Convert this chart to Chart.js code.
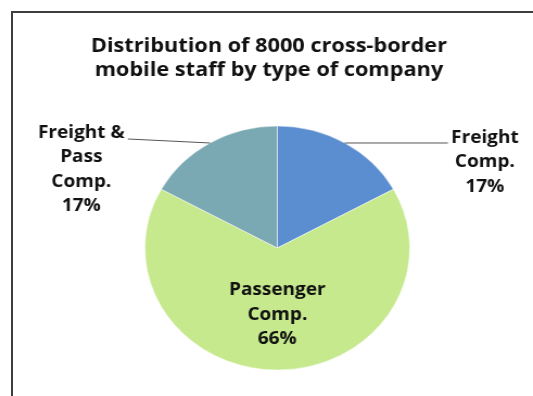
<!DOCTYPE html>
<html>
<head>
<meta charset="utf-8">
<script src="https://cdn.jsdelivr.net/npm/chart.js@4/dist/chart.umd.min.js"></script>
<style>
  html, body { margin: 0; padding: 0; background: #fff; overflow: hidden; }
  body { width: 533px; height: 396px; position: relative; }
  #wrap { position: absolute; left: 0; top: 0; width: 491px; height: 396px;
          transform: scaleX(1.0855); transform-origin: 0 0; }
  #frame { position: absolute; left: 11px; top: 11px; width: 560px; height: 420px;
           border: 2px solid #3e3e3e; pointer-events: none; }
</style>
</head>
<body>
<div id="wrap"><canvas id="pie" width="491" height="396"></canvas></div>
<div id="frame"></div>
<script>
const titleLines = ['Distribution of 8000 cross-border   ', 'mobile staff by type of company   '];
const categories = ['Freight Comp.', 'Passenger Comp.', 'Freight & Pass Comp.'];
const labelLines = [['Freight', 'Comp.'], ['Passenger', 'Comp.'], ['Freight &', 'Pass', 'Comp.']];
const shares = [17, 66, 17];
const sliceColors = ['#5b8ed0', '#c5e98c', '#7ba9b3'];

// writes category + percentage next to each slice, with leader lines for the small ones
const sliceLabels = {
    id: 'sliceLabels',
    afterDatasetsDraw(chart, args, opts) {
        const ctx = chart.ctx;
        const meta = chart.getDatasetMeta(0);
        const values = chart.data.datasets[0].data;
        ctx.save();
        ctx.font = `bold ${opts.size}px ${opts.family}`;
        ctx.fillStyle = opts.color;
        ctx.textAlign = 'center';
        ctx.textBaseline = 'alphabetic';
        meta.data.forEach((arc, i) => {
            const lines = [...labelLines[i], values[i] + '%'];
            const place = opts.placement[i];
            if (place.inside) {
                const c = arc.getCenterPoint(true);
                lines.forEach((t, k) => ctx.fillText(t, c.x, c.y + place.dy + k * opts.lineGap));
                return;
            }
            const {x, y, startAngle, endAngle, outerRadius} =
                arc.getProps(['x', 'y', 'startAngle', 'endAngle', 'outerRadius'], true);
            const mid = (startAngle + endAngle) / 2;
            const ax = x + Math.cos(mid) * outerRadius;
            const ay = y + Math.sin(mid) * outerRadius;
            const ex = ax + place.dx;
            const ey = ay + place.dy;
            ctx.beginPath();
            ctx.moveTo(ax, ay);
            ctx.lineTo(ex, ey);
            ctx.strokeStyle = opts.lineColor;
            ctx.lineWidth = 1;
            ctx.stroke();
            const w0 = ctx.measureText(lines[0]).width;
            const cx = place.dx > 0 ? ex + opts.gap + w0 / 2 : ex - opts.gap - w0 / 2;
            const by = ey + place.textDy;
            lines.forEach((t, k) => ctx.fillText(t, cx, by + k * opts.lineGap));
        });
        ctx.restore();
    }
};

function draw() {
    new Chart(document.getElementById('pie'), {
        type: 'pie',
        data: {
            labels: categories,
            datasets: [{
                data: shares,
                backgroundColor: sliceColors,
                borderColor: 'rgba(255,255,255,0.5)',
                borderWidth: 1,
                radius: 122
            }]
        },
        options: {
            responsive: false,
            animation: false,
            layout: {padding: {left: 20, right: 0, top: 0, bottom: 0}},
            plugins: {
                legend: {display: false},
                tooltip: {enabled: false},
                title: {
                    display: true,
                    text: titleLines,
                    color: '#111',
                    font: {family: 'Open Sans', size: 20, weight: 'bold', lineHeight: 1.225},
                    padding: {top: 34, bottom: 17}
                },
                sliceLabels: {
                    family: 'Open Sans',
                    size: 17.5,
                    color: '#111',
                    lineColor: '#555',
                    lineGap: 24.5,
                    gap: 3,
                    placement: [
                        {dx: 95, dy: 0, textDy: 0},
                        {inside: true, dy: -14},
                        {dx: -75.6, dy: -4, textDy: -1}
                    ]
                }
            }
        },
        plugins: [sliceLabels]
    });
}

document.fonts.load('bold 17px "Open Sans"').then(draw, draw);
</script>
</body>
</html>
